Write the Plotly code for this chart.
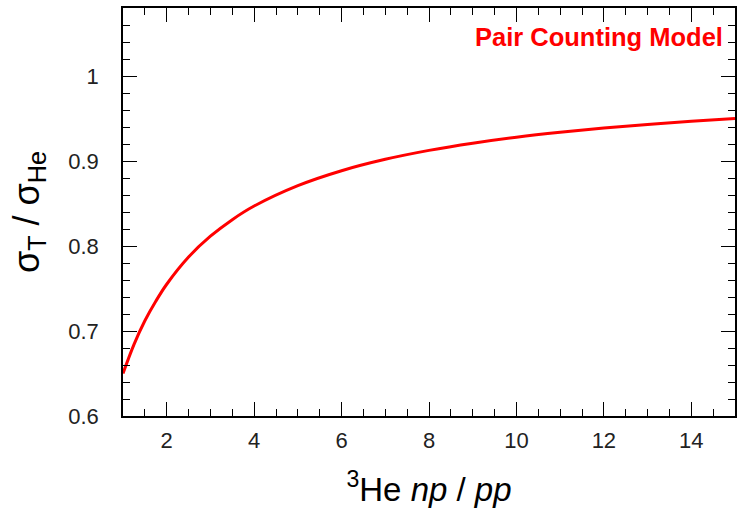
import plotly.graph_objects as go

# ratio np/pp in 3He
r_vals = [1.0, 1.25, 1.5, 1.75, 2.0, 2.5, 3.0, 3.5, 4.0, 5.0, 6.0, 7.0, 8.0, 9.0, 10.0, 11.0, 12.0, 13.0, 14.0, 15.0]
# sigma_T / sigma_He (pair counting model)
ratio_vals = [0.650, 0.684, 0.712, 0.735, 0.755, 0.787, 0.8115, 0.831, 0.847, 0.871, 0.8886, 0.902,
              0.9125, 0.921, 0.928, 0.9338, 0.9388, 0.943, 0.9467, 0.950]

x_ticks = [2, 4, 6, 8, 10, 12, 14]
y_ticks = [0.6, 0.7, 0.8, 0.9, 1.0]
y_ticklabels = ["0.6", "0.7", "0.8", "0.9", "1"]

FONT = "Liberation Sans"

fig = go.Figure()
fig.add_trace(go.Scatter(x=r_vals, y=ratio_vals, mode="lines",
                         line=dict(color="#ff0000", width=3, shape="spline"),
                         showlegend=False))

axis_common = dict(showline=True, linecolor="black", linewidth=1.5, mirror="ticks",
                   ticks="inside", tickcolor="black", tickwidth=1.2, ticklen=14,
                   showgrid=False, zeroline=False,
                   tickfont=dict(family=FONT, size=22, color="#222"))

fig.update_layout(
    width=738, height=514,
    margin=dict(l=123, r=1, t=8, b=98),
    plot_bgcolor="white", paper_bgcolor="white",
    xaxis=dict(range=[1, 15], tickvals=x_ticks,
               minor=dict(dtick=0.5, tick0=0, ticks="inside", ticklen=7, tickcolor="black", tickwidth=1.2),
               title=dict(text="<sup>3</sup>He <i>np</i> / <i>pp</i>",
                          font=dict(family=FONT, size=33, color="black"), standoff=26),
               ticklabelstandoff=4,
               **axis_common),
    yaxis=dict(range=[0.6, 1.08], tickvals=y_ticks, ticktext=y_ticklabels,
               minor=dict(dtick=0.02, tick0=0, ticks="inside", ticklen=7, tickcolor="black", tickwidth=1.2),
               title=dict(text="σ<sub>T</sub> / σ<sub>He</sub>",
                          font=dict(family=FONT, size=36, color="black"), standoff=18),
               ticklabelstandoff=18,
               **axis_common),
)

fig.add_annotation(text="<b>Pair Counting Model</b>", xref="paper", yref="paper",
                   x=0.983, y=0.93, xanchor="right", yanchor="middle", showarrow=False,
                   font=dict(family=FONT, size=25.5, color="#ff0000"))

fig.write_html("out.html")
